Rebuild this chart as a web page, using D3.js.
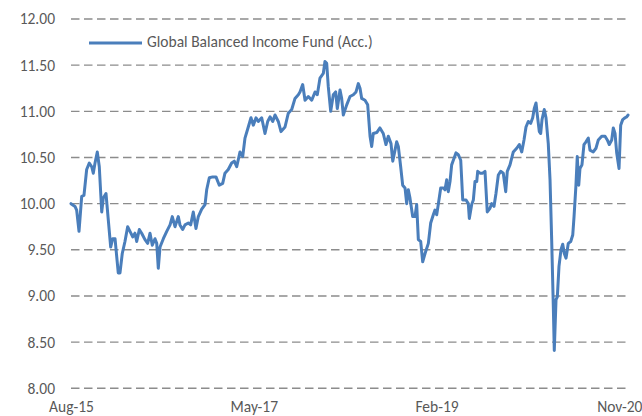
<!DOCTYPE html>
<html><head><meta charset="utf-8">
<script src="https://cdn.jsdelivr.net/npm/d3@7"></script>
<style>html,body{margin:0;padding:0;background:#fff;}svg{display:block;}</style>
</head><body>
<div id="chart"></div>
<script>
const seriesName = "Global Balanced Income Fund (Acc.)";
// months since Aug-15
const months = [0,0.46,0.65,0.92,1.23,1.49,1.80,2.10,2.38,2.56,2.76,3.02,3.25,3.53,3.71,4.02,4.29,4.56,4.79,5.06,5.25,5.43,5.63,5.89,6.20,6.51,6.78,7.09,7.35,7.55,7.85,8.12,8.50,8.81,9.08,9.34,9.65,9.85,10.03,10.23,10.61,11.00,11.38,11.64,11.95,12.33,
12.52,12.83,13.10,13.48,13.75,14.05,14.36,14.63,15.02,15.40,15.59,15.89,16.28,16.66,17.04,17.43,17.69,18.07,18.46,18.76,19.04,19.42,19.73,19.99,20.37,20.68,20.95,21.26,21.52,21.91,22.29,22.60,22.87,23.18,23.44,23.82,24.13,24.59,
24.97,25.36,25.74,26.12,26.31,26.62,26.89,27.27,27.66,28.04,28.30,28.61,28.99,29.18,29.38,29.56,29.84,30.14,30.41,30.60,30.91,31.10,31.29,31.68,32.06,32.44,32.75,33.01,33.21,33.40,33.78,34.09,34.36,34.55,34.73,35.13,35.50,35.88,36.19,36.46,36.77,36.97,37.23,37.42,37.61,
37.88,38.11,38.38,38.57,38.76,38.95,39.26,39.53,39.72,39.91,40.18,40.41,40.68,41.06,41.33,41.63,41.82,42.02,42.20,42.48,42.78,42.97,43.17,43.35,43.55,43.74,43.93,44.24,44.50,44.78,45.01,45.39,45.65,45.77,46.04,46.23,46.42,46.62,46.73,47.00,47.30,47.57,47.83,48.14,48.34,48.60,48.83,49.10,49.37,
49.67,49.95,50.13,50.44,50.82,51.21,51.51,51.79,52.05,52.28,52.54,52.82,53.05,53.23,53.43,53.58,53.81,53.97,54.12,54.38,54.58,54.84,55.04,55.23,55.42,55.53,55.73,55.88,56.07,56.30,56.50,56.68,56.88,57.14,57.42,57.65,57.80,58.02,58.17,58.34,58.48,58.71,58.94,59.17,59.44,59.63,60.01,60.32,60.59,60.98,61.36,61.62,61.85,62.13,62.31,62.51,62.70,62.97,63.16,63.39,63.66,63.85,64.0];
const navValues = [10.00,9.97,9.93,9.70,10.08,10.09,10.37,10.44,10.40,10.33,10.44,10.56,10.40,9.91,10.06,10.11,9.82,9.53,9.62,9.62,9.43,9.25,9.25,9.46,9.59,9.75,9.70,9.64,9.68,9.59,9.72,9.68,9.61,9.57,9.68,9.55,9.62,9.57,9.30,9.53,9.62,9.70,9.77,9.86,9.75,9.86,
9.77,9.72,9.77,9.79,9.77,9.91,9.73,9.86,9.94,9.99,10.15,10.28,10.29,10.29,10.20,10.22,10.33,10.37,10.44,10.46,10.40,10.56,10.51,10.71,10.83,10.93,10.85,10.93,10.89,10.93,10.76,10.89,10.94,10.89,10.96,10.89,10.78,10.83,
10.98,11.02,11.14,11.18,11.21,11.29,11.12,11.16,11.12,11.21,11.18,11.36,11.41,11.54,11.52,11.27,11.00,11.18,11.21,11.03,11.23,11.14,10.96,11.07,11.16,11.18,11.21,11.30,11.25,11.14,11.12,11.07,10.73,10.62,10.76,10.77,10.82,10.76,10.64,10.73,10.65,10.46,10.58,10.67,10.62,
10.40,10.20,10.17,10.00,10.15,10.06,9.86,9.86,9.99,9.61,9.59,9.37,9.46,9.57,9.79,9.88,9.93,9.88,9.99,10.17,10.17,10.15,10.26,10.13,10.24,10.42,10.47,10.55,10.53,10.47,10.04,10.04,10.00,9.84,9.99,10.04,10.24,10.24,10.35,10.33,10.33,10.35,9.91,9.95,10.00,9.97,10.11,10.31,10.35,
10.33,10.13,10.35,10.42,10.56,10.60,10.64,10.56,10.69,10.83,10.89,10.87,10.93,11.03,11.09,10.96,10.78,10.76,10.91,11.02,10.93,10.65,10.26,9.61,8.88,8.41,8.96,8.99,9.32,9.50,9.56,9.46,9.41,9.57,9.59,9.66,9.86,10.20,10.51,10.20,10.38,10.42,10.64,10.67,10.71,10.58,10.56,10.60,10.69,10.73,10.73,10.69,10.64,10.69,10.82,10.76,10.55,10.38,10.85,10.91,10.93,10.94,10.96];
const yTicks = [8.0,8.5,9.0,9.5,10.0,10.5,11.0,11.5,12.0];
const xTickMonths = [0,21,42,63];
const xTickLabels = ["Aug-15","May-17","Feb-19","Nov-20"];

const W = 642, H = 416;
const margin = {left:71, right:14, top:19, bottom:28};
const svg = d3.select("#chart").append("svg").attr("width",W).attr("height",H);
const x = d3.scaleLinear().domain([0,64]).range([margin.left, W - margin.right]);
const y = d3.scaleLinear().domain([8,12]).range([388.3, 19]);
const font = "Carlito, Lato, 'Open Sans', sans-serif";
const fs = 15.5;

// gridlines
svg.append("g").selectAll("line").data(yTicks).join("line")
  .attr("x1", x(0)).attr("x2", x(64))
  .attr("y1", d=>y(d)).attr("y2", d=>y(d))
  .attr("stroke", "#8c8c8c").attr("stroke-width", 1.4).attr("stroke-dasharray", "8.5,4.5");

// y axis labels
const yAxis = d3.axisLeft(y).tickValues(yTicks).tickFormat(d3.format(".2f")).tickSize(0).tickPadding(16);
const gy = svg.append("g").attr("transform", `translate(${margin.left},0)`).call(yAxis);
gy.select(".domain").remove();
gy.selectAll("text").attr("font-family", font).attr("font-size", fs).attr("fill", "#595959");

// x axis labels
const xAxis = d3.axisBottom(x).tickValues(xTickMonths).tickFormat((d,i)=>xTickLabels[i]).tickSize(0).tickPadding(13);
const gx = svg.append("g").attr("transform", `translate(0,${y(8)})`).call(xAxis);
gx.select(".domain").remove();
gx.selectAll("text").attr("font-family", font).attr("font-size", fs).attr("fill", "#595959");

// line
const data = months.map((m,i)=>({m, v:navValues[i]}));
svg.append("path").datum(data)
  .attr("fill","none").attr("stroke","#4a7ebb").attr("stroke-width",3)
  .attr("stroke-linejoin","round").attr("stroke-linecap","round")
  .attr("d", d3.line().x(d=>x(d.m)).y(d=>y(d.v)));

// legend
const lg = svg.append("g");
lg.append("line").attr("x1",89).attr("x2",142).attr("y1",43).attr("y2",43)
  .attr("stroke","#4a7ebb").attr("stroke-width",3);
lg.append("text").attr("x",147).attr("y",47).text(seriesName)
  .attr("font-family", font).attr("font-size", fs).attr("fill", "#595959");
</script>
</body></html>
